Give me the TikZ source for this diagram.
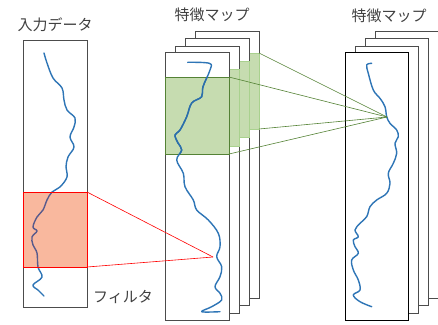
\documentclass[tikz,border=0pt]{standalone}
\usepackage{fontspec}
\newfontfamily\jp{Noto Sans CJK JP}
\definecolor{wave}{HTML}{2E75B6}
\definecolor{wavedark}{HTML}{585A8C}
\definecolor{wavegreen}{HTML}{2C6FAA}
\definecolor{greenfill}{HTML}{C6DCB0}
\definecolor{greendark}{HTML}{548235}
\definecolor{greenlight}{HTML}{A9D18E}
\definecolor{redfill}{HTML}{F9B89E}
\definecolor{txt}{HTML}{404040}
\tikzset{
  box/.style={draw=black!70, line width=0.7pt, fill=white, inner sep=0pt, outer sep=0pt, anchor=north west},
  boxfront/.style={box, draw=black, line width=0.9pt},
  greenback/.style={fill=greenfill, draw=greenlight, line width=0.5pt, inner sep=0pt, outer sep=0pt, anchor=north west},
  greenfront/.style={fill=greenfill, draw=greendark, line width=0.8pt, inner sep=0pt, outer sep=0pt, anchor=north west},
  filterbox/.style={fill=redfill, draw=red, line width=0.8pt, inner sep=0pt, outer sep=0pt, anchor=north west},
  wavy/.style={draw=wave, line width=1.4pt, line cap=round, line join=round},
  label/.style={font=\jp\fontsize{15}{17}\selectfont, text=txt, inner sep=0pt},
  redline/.style={draw=red, line width=0.6pt},
  greenline/.style={draw=greendark, line width=0.6pt},
}
\newcommand{\leftwave}{plot[smooth, tension=0.6] coordinates {(44,53) (47,63) (53,78) (62,88) (64,100) (67,110) (75,118) (74,127) (70,137) (74,147) (68,157) (66,167) (67,177) (60,187) (52,192) (47,200) (43,210) (37,217) (33,227) (37,231) (32,237) (33,245) (37,253) (38,267) (42,277) (33,285) (38,290) (44,296)}}
\newcommand{\midwave}{plot[smooth, tension=0.6] coordinates {(187.7,62.3) (209.3,63.3) (210,70) (203,86.7) (201.7,96.7) (191.7,103) (186.7,116.7) (180,130) (175,135) (178,143) (181.7,150) (176.7,160) (183.3,173.3) (185,186.7) (193.3,200) (196.7,210) (208.3,220) (218.3,233.3) (220,246.7) (216.7,256.7) (221.7,266.7) (220,276.7) (215,286.7) (220,293.3) (221.7,300) (211.7,306.7) (201.7,311.7) (220,311.7)}}
\begin{document}
\begin{tikzpicture}[x=1pt,y=-1pt]
\useasboundingbox (0,0) rectangle (438,324);

% Input data
\node[label] (lin) at (55,25) {入力データ};
\node[box, minimum width=64pt, minimum height=267pt] (in) at (23,40) {};
\draw[wavy] \leftwave;
\node[filterbox, minimum width=64pt, minimum height=75pt] (filter) at (23,192) {};
\begin{scope}
  \clip (filter.north west) rectangle (filter.south east);
  \draw[wavy, draw=wavedark] \leftwave;
\end{scope}
\draw[red, line width=0.8pt] (filter.north west) rectangle (filter.south east);
\node[label, anchor=west] (lfil) at (93,297) {フィルタ};

% Middle feature maps
\node[label] (lmid) at (212,15) {特徴マップ};
\node[box, minimum width=64pt, minimum height=267pt] (m4) at (195,31) {};
\node[greenback, minimum width=64pt, minimum height=76pt] (g4) at (195,53) {};
\node[box, minimum width=64pt, minimum height=267pt] (m3) at (185,38) {};
\node[greenback, minimum width=64pt, minimum height=76pt] (g3) at (185,61) {};
\node[box, minimum width=64pt, minimum height=267pt] (m2) at (175,46) {};
\node[greenback, minimum width=64pt, minimum height=77pt] (g2) at (175,69) {};
\node[box, minimum width=64pt, minimum height=268pt] (m1) at (165,52) {};
\node[greenfront, minimum width=64pt, minimum height=77pt] (g1) at (165,77) {};
\draw[wavy] \midwave;
\begin{scope}
  \clip (g1.north west) rectangle (g1.south east);
  \draw[wavy, draw=wavegreen] \midwave;
\end{scope}

% Right feature maps
\node[label] (lright) at (389,16) {特徴マップ};
\node[box, minimum width=63pt, minimum height=267pt] (r4) at (375,31) {};
\node[box, minimum width=63pt, minimum height=267pt] (r3) at (365,38) {};
\node[box, minimum width=63pt, minimum height=267pt] (r2) at (355,46) {};
\node[boxfront, minimum width=63pt, minimum height=268pt] (r1) at (345,52) {};
\draw[wavy] plot[smooth, tension=0.6] coordinates {(371.7,63.3) (366.7,65) (368.3,73.3) (373.3,90) (380,98.3) (385,106.7) (386.7,116.7) (390,123.3) (396.7,130) (398.3,136.7) (395,143.3) (396.7,153.3) (393.3,163.3) (388.3,173.3) (390,183.3) (386.7,193.3) (376.7,200) (370,206.7) (366.7,216.7) (360,223.3) (355,230) (358.3,236.7) (353.3,240) (355,246.7) (358.3,253.3) (351.7,260) (353.3,270) (358.3,280) (360,290) (353.3,295) (360,301.7) (371.7,306.7)};

% Connectors
\coordinate (fp) at (213,257);
\coordinate (gp) at (387,117);
\draw[redline] (filter.north east) -- (fp);
\draw[redline] (filter.south east) -- (fp);
\draw[greenline] (g4.north east) -- (gp);
\draw[greenline] (g1.north east) -- (gp);
\draw[greenline] (g4.south east) -- (gp);
\draw[greenline] (g1.south east) -- (gp);
\end{tikzpicture}
\end{document}
